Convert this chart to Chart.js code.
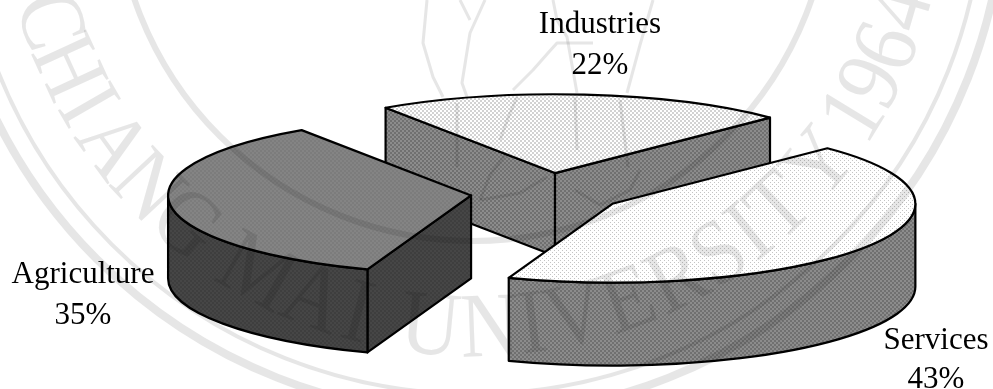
<!DOCTYPE html>
<html>
<head>
<meta charset="utf-8">
<style>
  html, body { margin: 0; padding: 0; background: #fff; }
  canvas { display: block; }
</style>
<script src="https://cdn.jsdelivr.net/npm/chart.js@4"></script>
</head>
<body>
<canvas id="chart" width="993" height="389"></canvas>
<script>
const categories = ["Industries", "Services", "Agriculture"];
const shares = [22, 43, 35];

// pie geometry (3d look is a squash of the library's circle + extrude)
const ROTATION = -34;
const RADIUS = 303;
const SQUASH = 0.26;
const DEPTH = 83;
const EXPLODE = 77;

const labelSpots = [
  { x: 600, y: 33, gap: 41 },
  { x: 936, y: 349, gap: 39 },
  { x: 83, y: 283, gap: 41 },
];

function pattern(size, paint) {
  const c = document.createElement("canvas");
  c.width = c.height = size;
  paint(c.getContext("2d"));
  return c.getContext("2d").createPattern(c, "repeat");
}

function checker(a, b) {
  return pattern(4, (g) => {
    g.fillStyle = a;
    g.fillRect(0, 0, 4, 4);
    g.fillStyle = b;
    g.fillRect(0, 0, 2, 2);
    g.fillRect(2, 2, 2, 2);
  });
}

const topFills = [
  checker("#ffffff", "#d2d2d2"),
  pattern(4, (g) => {
    g.fillStyle = "#ffffff";
    g.fillRect(0, 0, 4, 4);
    g.fillStyle = "#c4c4c4";
    g.fillRect(0, 0, 1, 1);
    g.fillRect(2, 2, 1, 1);
  }),
  checker("#7c7c7c", "#848484"),
];
const wallFills = [
  checker("#707070", "#8c8c8c"),
  checker("#707070", "#8c8c8c"),
  checker("#3e3e3e", "#464646"),
];

// screen position of a pie angle on the squashed circle
function onRim(s, angle, drop) {
  return [
    s.cx + Math.cos(angle) * s.r,
    s.cy + Math.sin(angle) * s.r * SQUASH + (drop || 0),
  ];
}

function shape(ctx, pts, fill) {
  ctx.beginPath();
  pts.forEach((p, i) => (i ? ctx.lineTo(p[0], p[1]) : ctx.moveTo(p[0], p[1])));
  ctx.closePath();
  ctx.fillStyle = fill;
  ctx.fill();
  ctx.stroke();
}

function drawSlice(ctx, arc, i) {
  const mid = (arc.startAngle + arc.endAngle) / 2;
  const s = {
    cx: arc.x + Math.cos(mid) * EXPLODE,
    cy: arc.y + Math.sin(mid) * EXPLODE * SQUASH,
    r: arc.outerRadius,
  };
  const a0 = arc.startAngle;
  const a1 = arc.endAngle;
  const apex = [s.cx, s.cy];
  const apexLow = [s.cx, s.cy + DEPTH];
  const ry = s.r * SQUASH;

  ctx.lineWidth = 2.2;
  ctx.lineJoin = "round";
  ctx.strokeStyle = "#000";

  // cut faces, only the ones turned to the viewer
  if (Math.sin(a0 - Math.PI / 2) > 0) {
    shape(ctx, [onRim(s, a0), apex, apexLow, onRim(s, a0, DEPTH)], wallFills[i]);
  }
  if (Math.sin(a1 + Math.PI / 2) > 0) {
    shape(ctx, [apex, onRim(s, a1), onRim(s, a1, DEPTH), apexLow], wallFills[i]);
  }

  // outer wall, the part of the rim in the front half
  const from = Math.max(a0, 0);
  const to = Math.min(a1, Math.PI);
  if (to > from) {
    ctx.beginPath();
    ctx.ellipse(s.cx, s.cy, s.r, ry, 0, from, to);
    ctx.ellipse(s.cx, s.cy + DEPTH, s.r, ry, 0, to, from, true);
    ctx.closePath();
    ctx.fillStyle = wallFills[i];
    ctx.fill();
    ctx.stroke();
  }

  // top face
  ctx.beginPath();
  ctx.moveTo(s.cx, s.cy);
  ctx.ellipse(s.cx, s.cy, s.r, ry, 0, a0, a1);
  ctx.closePath();
  ctx.fillStyle = arc.options.backgroundColor;
  ctx.fill();
  ctx.stroke();
}

function drawLabels(ctx) {
  ctx.fillStyle = "#000";
  ctx.textAlign = "center";
  ctx.font = '31px "Liberation Serif"';
  categories.forEach((name, i) => {
    const spot = labelSpots[i];
    ctx.fillText(name, spot.x, spot.y);
    ctx.fillText(shares[i] + "%", spot.x, spot.y + spot.gap);
  });
}

// university seal behind everything, multiplied so it also shows on the pie
const sealCentre = { x: 473, y: -117 };
const sealRings = [
  { r: 358, w: 6 },
  { r: 511, w: 4 },
  { r: 532, w: 8 },
];
const sealLetters = [
  ["C", 72], ["H", 65.5], ["I", 60], ["A", 54], ["N", 47], ["G", 40],
  ["M", 29], ["A", 21], ["I", 15],
  ["U", 5.5], ["N", -2.2], ["I", -7.7], ["V", -13.3], ["E", -20.4], ["R", -27.3],
  ["S", -33.6], ["I", -38.4], ["T", -43.4], ["Y", -51],
  ["1", -58.6], ["9", -63.4], ["6", -68.4], ["4", -73.7],
];
const sealCurves = [
  [[427, 0], [423, 43], [433, 77], [443, 97]],
  [[485, 0], [470, 33], [462, 83], [467, 97]],
  [[460, 0], [470, 20]],
  [[513, 90], [533, 70], [548, 53], [557, 43], [593, 43]],
  [[553, 0], [557, 20], [567, 37], [577, 93]],
  [[653, 0], [640, 45], [627, 93]],
  [[517, 97], [508, 118], [500, 140]],
  [[575, 97], [577, 150]],
  [[620, 100], [628, 167]],
  [[457, 103], [457, 167]],
  [[480, 200], [520, 193], [547, 177]],
  [[505, 155], [490, 175], [480, 200]],
  [[575, 190], [600, 205], [630, 190], [640, 170]],
];

function drawSeal(ctx) {
  ctx.save();
  ctx.globalCompositeOperation = "multiply";
  ctx.strokeStyle = ctx.fillStyle = "#e6e6e6";
  sealRings.forEach((ring) => {
    ctx.lineWidth = ring.w;
    ctx.beginPath();
    ctx.arc(sealCentre.x, sealCentre.y, ring.r, 0, Math.PI * 2);
    ctx.stroke();
  });
  ctx.lineWidth = 3;
  ctx.lineJoin = "round";
  sealCurves.forEach((pts) => {
    ctx.beginPath();
    pts.forEach((p, i) => (i ? ctx.lineTo(p[0], p[1]) : ctx.moveTo(p[0], p[1])));
    ctx.stroke();
  });
  ctx.font = '92px "Liberation Serif"';
  ctx.textAlign = "center";
  sealLetters.forEach((l) => {
    const phi = (l[1] * Math.PI) / 180;
    ctx.save();
    ctx.translate(sealCentre.x, sealCentre.y);
    ctx.rotate(phi);
    ctx.scale(0.89, 1);
    ctx.fillText(l[0], 0, 473);
    ctx.restore();
  });
  ctx.restore();
}

const pie3d = {
  id: "pie3d",
  beforeDraw(chart) {
    chart.ctx.fillStyle = "#fff";
    chart.ctx.fillRect(0, 0, chart.width, chart.height);
  },
  beforeDatasetsDraw(chart) {
    const arcs = chart.getDatasetMeta(0).data;
    const ctx = chart.ctx;
    // back slice first, then the two front ones
    [0, 2, 1].forEach((i) => {
      ctx.save();
      drawSlice(ctx, arcs[i], i);
      ctx.restore();
    });
    drawLabels(ctx);
    return false;
  },
  afterDraw(chart) {
    drawSeal(chart.ctx);
  },
};

new Chart(document.getElementById("chart"), {
  type: "pie",
  data: {
    labels: categories,
    datasets: [
      {
        data: shares,
        backgroundColor: topFills,
        borderColor: "#000",
        borderWidth: 2,
      },
    ],
  },
  options: {
    responsive: false,
    animation: false,
    radius: RADIUS,
    rotation: ROTATION,
    layout: { padding: { left: 102, bottom: 3 } },
    plugins: { legend: { display: false }, tooltip: { enabled: false } },
  },
  plugins: [pie3d],
});
</script>
</body>
</html>
